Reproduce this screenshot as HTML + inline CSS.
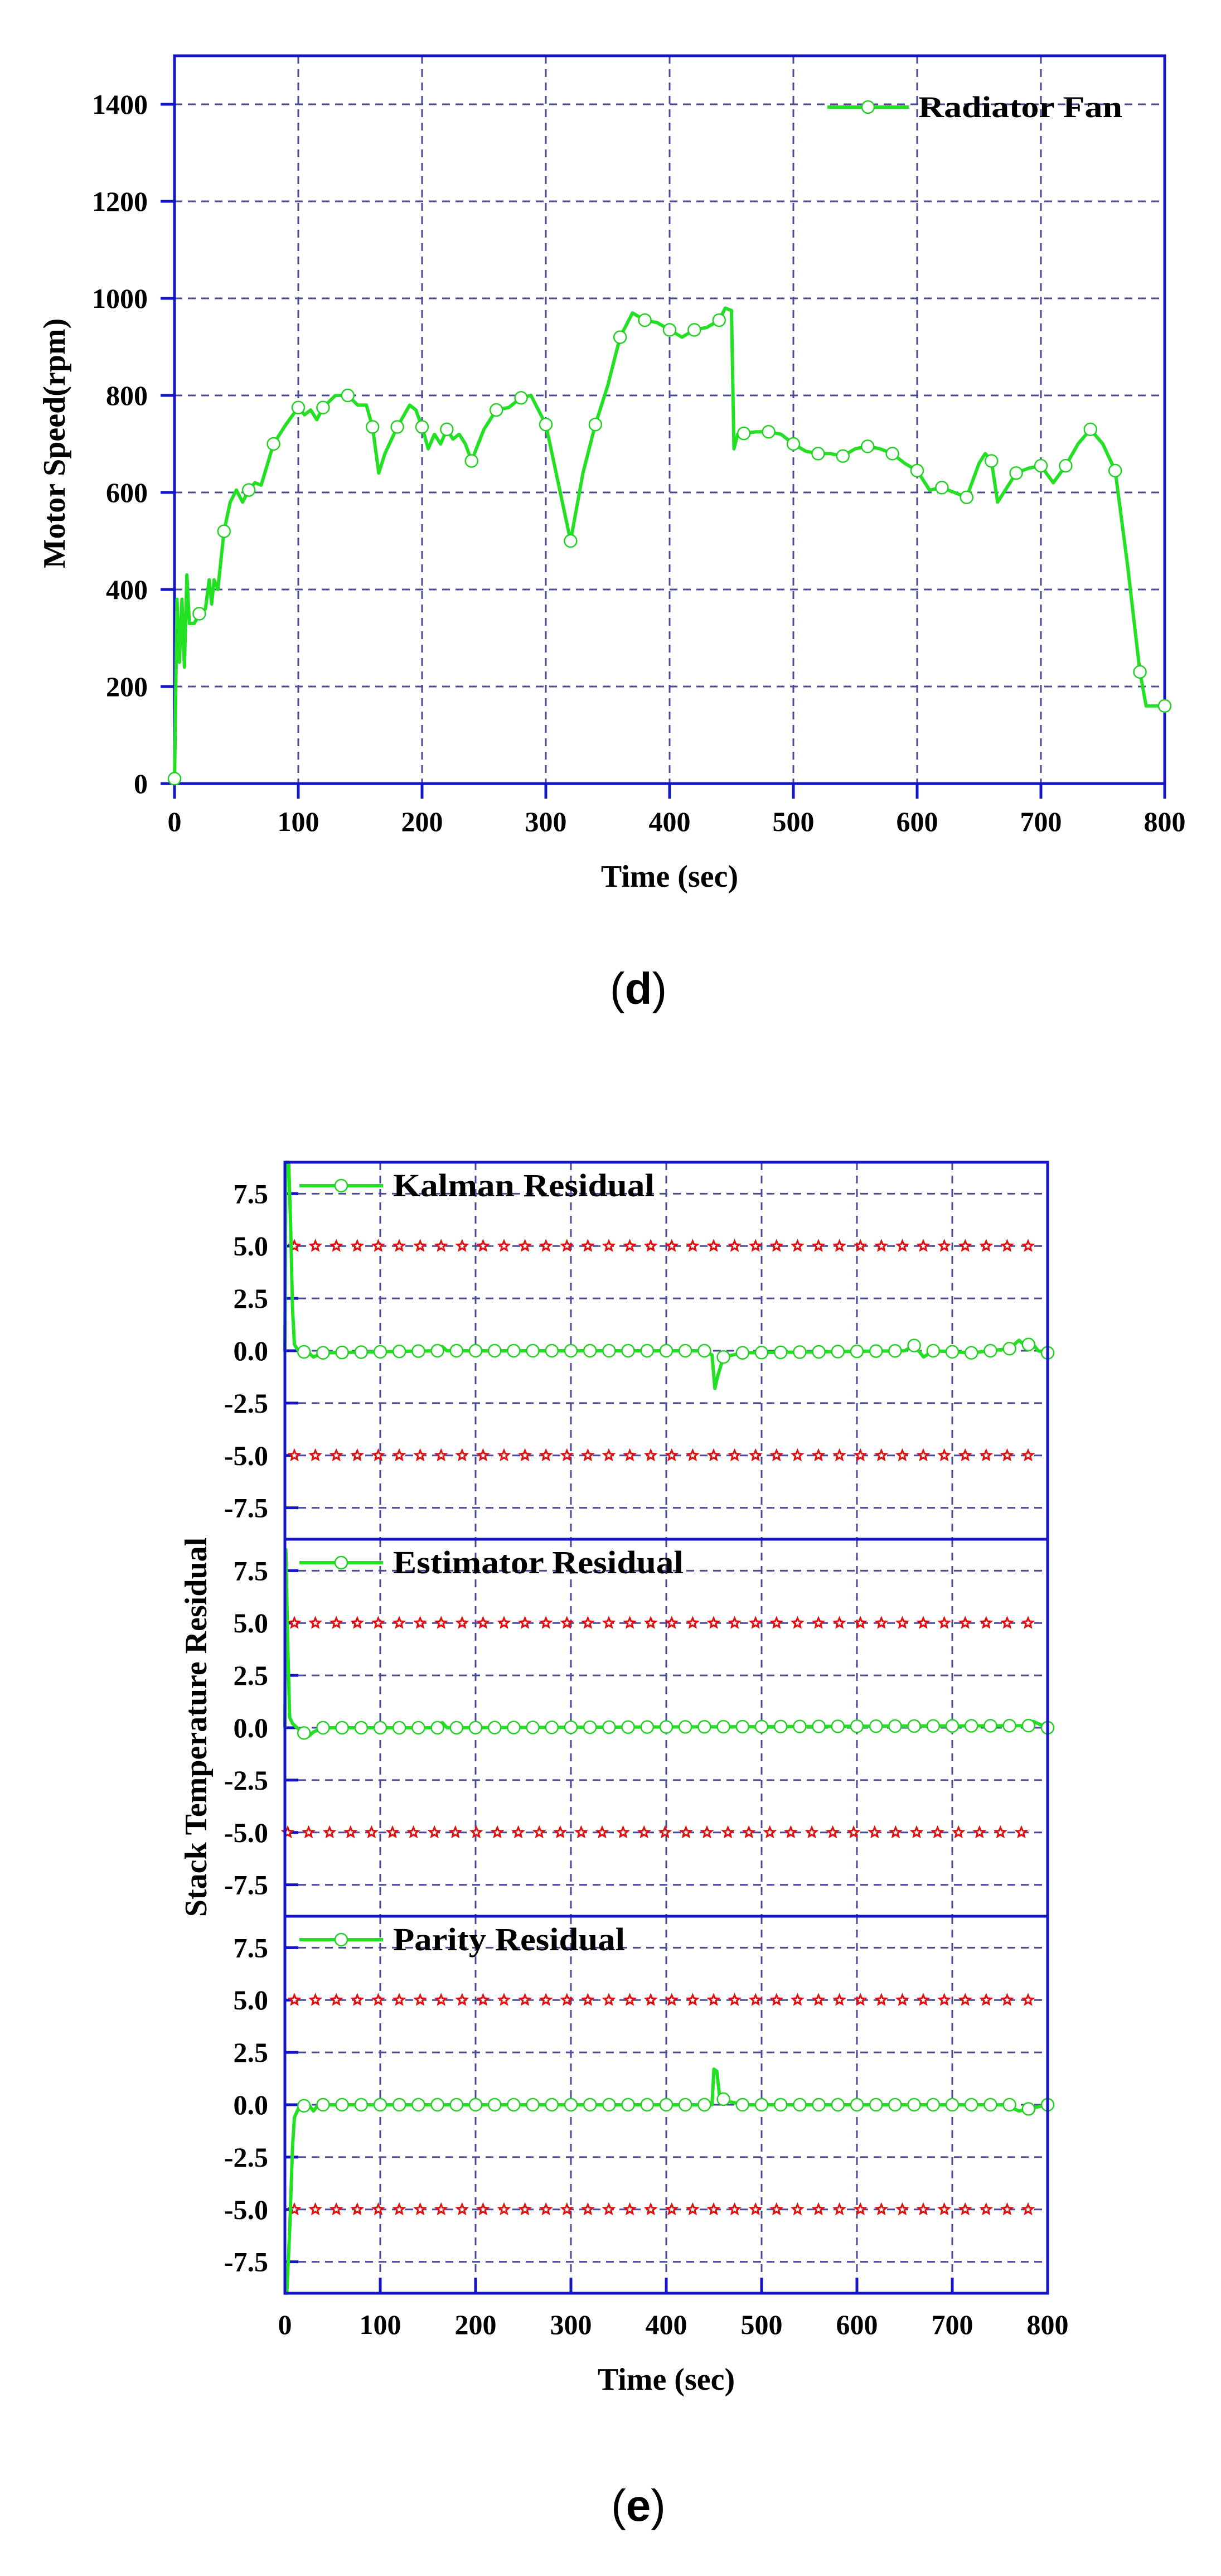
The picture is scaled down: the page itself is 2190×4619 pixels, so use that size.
<!DOCTYPE html>
<html><head><meta charset="utf-8"><style>
html,body{margin:0;padding:0;background:#fff;}
svg{display:block;}
text{font-family:"Liberation Serif",serif;font-weight:bold;fill:#000;}
.cap{font-family:"Liberation Sans",sans-serif;}
.grid{stroke:#4a4a9a;stroke-width:3;stroke-dasharray:14 10;fill:none;}
.ax{stroke:#1414c8;stroke-width:5;fill:none;}
.ser{stroke:#22e022;stroke-width:6;fill:none;stroke-linejoin:round;}
.mk{fill:#fff;stroke:#22d022;stroke-width:2.5;}
.star{fill:#e01010;}
</style></head><body>
<svg id="s" width="2190" height="4619" viewBox="0 0 2190 4619" xmlns="http://www.w3.org/2000/svg">
<g id="dgrid"></g>
<g font-size="50" text-anchor="end">
<text x="265" y="1422">0</text><text x="265" y="1248">200</text><text x="265" y="1074">400</text><text x="265" y="900">600</text><text x="265" y="726">800</text><text x="265" y="552">1000</text><text x="265" y="378">1200</text><text x="265" y="204">1400</text>
</g>
<g font-size="50" text-anchor="middle">
<text x="313" y="1490">0</text><text x="535" y="1490">100</text><text x="757" y="1490">200</text><text x="979" y="1490">300</text><text x="1201" y="1490">400</text><text x="1423" y="1490">500</text><text x="1645" y="1490">600</text><text x="1867" y="1490">700</text><text x="2089" y="1490">800</text>
</g>
<text x="1201" y="1590" font-size="56" text-anchor="middle">Time (sec)</text>
<text transform="translate(116,795) rotate(-90)" font-size="56" text-anchor="middle">Motor Speed(rpm)</text>
<line x1="1484" y1="192" x2="1630" y2="192" class="ser"/>
<circle cx="1557" cy="192" r="11" class="mk"/>
<text x="1647" y="210" font-size="54" textLength="366" lengthAdjust="spacingAndGlyphs">Radiator Fan</text>
<text class="cap" x="1145" y="1800" font-size="80" text-anchor="middle"><tspan font-weight="normal">(</tspan>d<tspan font-weight="normal">)</tspan></text>

<g font-size="50" text-anchor="middle">
<text x="511" y="4185">0</text><text x="682" y="4185">100</text><text x="853" y="4185">200</text><text x="1024" y="4185">300</text><text x="1195" y="4185">400</text><text x="1366" y="4185">500</text><text x="1537" y="4185">600</text><text x="1708" y="4185">700</text><text x="1879" y="4185">800</text>
</g>
<text x="1195" y="4285" font-size="56" text-anchor="middle">Time (sec)</text>
<text transform="translate(370,3097) rotate(-90)" font-size="56" text-anchor="middle">Stack Temperature Residual</text>
<g id="eticks" font-size="50" text-anchor="end"></g>
<g id="e"></g>
<g font-size="58">
<text x="705" y="2145" textLength="469" lengthAdjust="spacingAndGlyphs">Kalman Residual</text>
<text x="705" y="2821" textLength="521" lengthAdjust="spacingAndGlyphs">Estimator Residual</text>
<text x="705" y="3497" textLength="416" lengthAdjust="spacingAndGlyphs">Parity Residual</text>
</g>
<text class="cap" x="1145" y="4520" font-size="80" text-anchor="middle"><tspan font-weight="normal">(</tspan>e<tspan font-weight="normal">)</tspan></text>
</svg>
<script>
(function(){
var NS="http://www.w3.org/2000/svg";
function el(p,n,a){var e=document.createElementNS(NS,n);for(var k in a)e.setAttribute(k,a[k]);p.appendChild(e);return e;}
var svg=document.getElementById('s');
var dg=document.getElementById('dgrid');
function dX(t){return 313+t*2.22;} function dY(v){return 1405-v*0.87;}
for(var i=1;i<8;i++){el(dg,'line',{x1:dX(i*100),y1:100,x2:dX(i*100),y2:1405,'class':'grid'});}
for(var v=200;v<=1400;v+=200){el(dg,'line',{x1:313,y1:dY(v),x2:2089,y2:dY(v),'class':'grid'});}
for(var v=0;v<=1400;v+=200){el(dg,'line',{x1:288,y1:dY(v),x2:313,y2:dY(v),'class':'ax'});}
for(var i=0;i<=8;i++){el(dg,'line',{x1:dX(i*100),y1:1405,x2:dX(i*100),y2:1432,'class':'ax'});}
el(dg,'rect',{x:313,y:100,width:1776,height:1305,'class':'ax'});
var D=[[0,0],[2,380],[4,250],[6,380],[8,240],[10,430],[12,330],[16,330],[20,350],[25,360],[28,420],[30,370],[32,420],[35,400],[40,520],[45,580],[50,605],[55,580],[60,605],[65,620],[70,615],[80,700],[90,740],[100,775],[105,760],[110,770],[115,750],[120,775],[130,800],[140,800],[148,780],[155,780],[160,735],[165,640],[170,680],[180,735],[190,780],[195,770],[200,735],[205,690],[210,720],[215,700],[220,730],[225,710],[230,720],[235,700],[240,665],[250,730],[260,770],[270,775],[280,795],[288,800],[300,740],[310,620],[320,500],[330,640],[340,740],[350,820],[360,920],[370,970],[380,955],[390,950],[400,935],[410,920],[420,935],[430,940],[440,955],[445,980],[450,975],[452,690],[455,720],[470,725],[480,725],[490,720],[500,700],[510,685],[520,680],[530,680],[540,675],[550,690],[560,695],[570,690],[580,680],[590,660],[600,645],[610,605],[620,610],[630,600],[640,590],[650,660],[655,680],[660,665],[665,580],[680,640],[690,650],[700,655],[710,620],[720,655],[730,700],[740,730],[750,700],[760,645],[770,450],[780,230],[785,160],[800,160]];
function interp(A,t){for(var i=1;i<A.length;i++){if(t<=A[i][0]){var a=A[i-1],b=A[i];return a[1]+(b[1]-a[1])*(t-a[0])/(b[0]-a[0]);}}return A[A.length-1][1];}
el(svg,'path',{d:'M'+D.map(function(p){return dX(p[0])+','+dY(p[1]);}).join(' L'),'class':'ser'});
for(var t=0;t<=800;t+=20){el(svg,'circle',{cx:dX(t),cy:dY(t==0?10:interp(D,t)),r:11,'class':'mk'});}
var eg=document.getElementById('e'),et=document.getElementById('eticks');
function eX(t){return 511+t*1.71;}
var PH=676,UT=PH/18,TOP=2084;
var series=[
 [[0,0],[1,9],[4,9],[6,6],[8,2],[10,0.3],[14,0],[25,-0.1],[30,-0.3],[40,-0.1],[160,0],[165,0.2],[170,0],[440,0],[448,-0.2],[451,-1.8],[454,-1.2],[460,-0.3],[480,-0.1],[650,0],[660,0.25],[670,-0.3],[680,0],[720,-0.1],[760,0.1],[770,0.5],[775,0.3],[785,0.3],[790,0],[800,-0.1]],
 [[0,0],[1,8.5],[3,4],[5,0.5],[8,0.2],[15,-0.1],[25,-0.4],[30,-0.2],[40,0],[160,0],[165,0.25],[170,0],[780,0.1],[785,0.3],[800,0]],
 [[0,-9],[2,-9],[5,-6],[8,-2],[10,-0.6],[15,-0.1],[25,0],[30,-0.3],[35,0],[448,0],[450,1.7],[453,1.6],[456,0.4],[462,0.2],[480,0],[760,0],[765,-0.2],[770,-0.3],[780,-0.2],[800,0]]
];
var labs=['7.5','5.0','2.5','0.0','-2.5','-5.0','-7.5'],vals=[7.5,5,2.5,0,-2.5,-5,-7.5];
function starPath(cx,cy,R){var r=R*0.45,s='';for(var k=0;k<10;k++){var a=-Math.PI/2+k*Math.PI/5,rr=k%2?r:R;s+=(k?'L':'M')+(cx+rr*Math.cos(a)).toFixed(1)+','+(cy+rr*Math.sin(a)).toFixed(1);}return s+'Z';}
function panel(p){
 var pt=TOP+p*PH;
 function Y(v){return pt+PH/2-v*UT;}
 for(var i=1;i<8;i++){el(eg,'line',{x1:eX(i*100),y1:pt,x2:eX(i*100),y2:pt+PH,'class':'grid'});}
 for(var j=0;j<7;j++){var y=Y(vals[j]);el(eg,'line',{x1:511,y1:y,x2:1879,y2:y,'class':'grid'});el(eg,'line',{x1:511,y1:y,x2:535,y2:y,'class':'ax'});
  var tx=el(et,'text',{x:481,y:y+17});tx.textContent=labs[j];}
 var sd='',inner='';
 [5,-5].forEach(function(v){var xs=(p==1&&v<0)?516:528;for(var k=0;k<36;k++){sd+=starPath(xs+k*37.6,Y(v),13);inner+=starPath(xs+k*37.6,Y(v),5);}});
 el(eg,'path',{d:sd,'class':'star'});
 el(eg,'path',{d:inner,fill:'#fff'});
 var S=series[p];
 el(eg,'path',{d:'M'+S.map(function(q){return eX(q[0])+','+Y(q[1]);}).join(' L'),'class':'ser'});
 for(var t=20;t<=800;t+=20){el(eg,'circle',{cx:eX(t),cy:Y(interp(S,t)),r:11,'class':'mk'});}
 el(eg,'line',{x1:537,y1:pt+42,x2:687,y2:pt+42,'class':'ser'});
 el(eg,'circle',{cx:612,cy:pt+42,r:11,'class':'mk'});
 el(eg,'rect',{x:511,y:pt,width:1368,height:PH,'class':'ax'});
}
for(var p=0;p<3;p++)panel(p);
var bot=TOP+3*PH;
for(var i=0;i<=8;i++){el(eg,'line',{x1:eX(i*100),y1:bot,x2:eX(i*100),y2:bot-28,'class':'ax'});}
})();
</script>
</body></html>
